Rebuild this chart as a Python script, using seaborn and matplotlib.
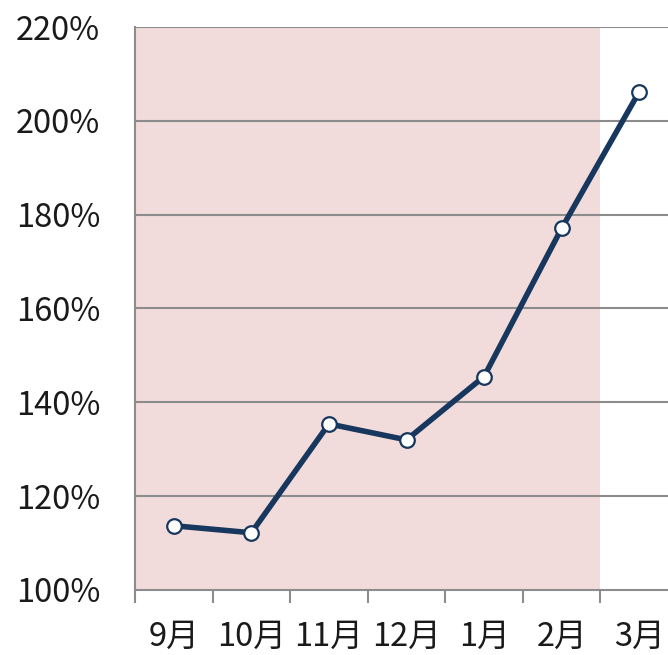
import matplotlib
matplotlib.use("Agg")
import matplotlib.pyplot as plt
import seaborn as sns
from matplotlib.ticker import FuncFormatter, FixedLocator

months = ["9月", "10月", "11月", "12月", "1月", "2月", "3月"]
values = [113.7, 112.2, 135.4, 132.0, 145.5, 177.1, 206.2]
y_ticks = [100, 120, 140, 160, 180, 200, 220]
shade_end_index = 5  # shaded through 2月

sns.set_theme(style="white")
plt.rcParams['font.family'] = ['Noto Sans CJK JP', 'DejaVu Sans']

fig = plt.figure(figsize=(6.68, 6.55), dpi=100)
ax = fig.add_axes([135/668, 1-590/655, 543/668, 563/655])

line_color = "#17375E"
ax.axvspan(-0.5, shade_end_index + 0.5, color="#F2DCDB", zorder=0, lw=0)

sns.lineplot(x=months, y=values, sort=False, ax=ax, color=line_color,
             linewidth=4.0, marker="o", markersize=10.5,
             markerfacecolor="white", markeredgecolor=line_color,
             markeredgewidth=1.6, zorder=5)

ax.set_xlim(-0.5, len(months) - 0.5)
ax.set_ylim(100, 220)
ax.set_yticks(y_ticks)
ax.yaxis.set_major_formatter(FuncFormatter(lambda v, p: f"{int(v)}%"))
for y in y_ticks[1:]:
    ax.axhline(y, color="#8C8C8C", lw=1.5, zorder=1)

ax.xaxis.set_minor_locator(FixedLocator([i - 0.5 for i in range(len(months) + 1)]))
ax.tick_params(axis="x", which="major", length=0, pad=22, labelsize=23.5, colors="#1A1A1A")
ax.tick_params(axis="x", which="minor", length=9, width=1.5, color="#8C8C8C", direction="out", bottom=True)
ax.tick_params(axis="y", length=0, pad=25, labelsize=23.5, colors="#1A1A1A")
ax.set_xlabel("")
ax.set_ylabel("")

for s in ["top", "right"]:
    ax.spines[s].set_visible(False)
for s in ["left", "bottom"]:
    ax.spines[s].set_color("#8C8C8C")
    ax.spines[s].set_linewidth(1.5)
ax.grid(False)

fig.savefig("out.png", dpi=100)
